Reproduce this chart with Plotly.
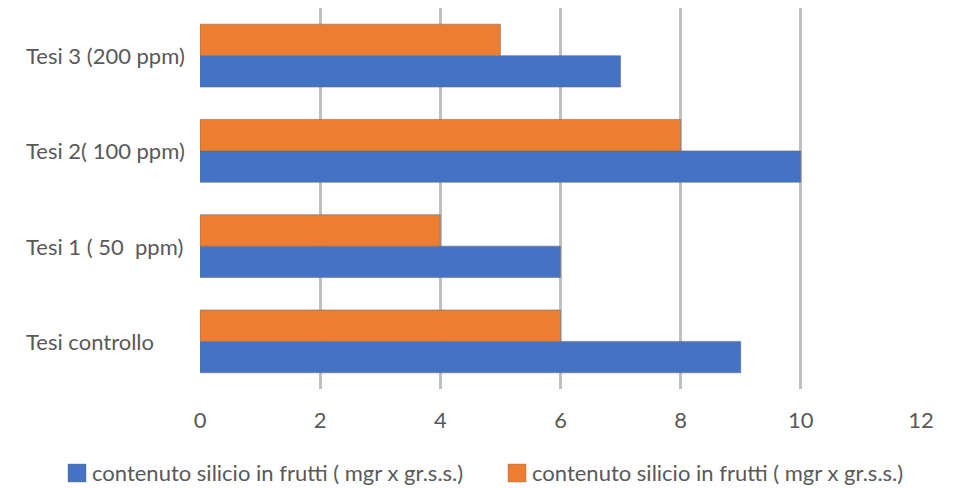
import plotly.graph_objects as go

# Categories (bottom to top) and silicon content values
categories = ["Tesi controllo", "Tesi 1 ( 50  ppm)", "Tesi 2( 100 ppm)", "Tesi 3 (200 ppm)"]
serie_blu = [9, 6, 10, 7]
serie_arancio = [6, 4, 8, 5]
nome_serie = "contenuto silicio in frutti ( mgr x gr.s.s.)"
x_ticks = [0, 2, 4, 6, 8, 10, 12]

colore_blu = "#4472C4"
colore_arancio = "#ED7D31"

W, H = 964, 488
L, R, T, B = 200, 43, 8, 99
plot_w = W - L - R
plot_h = H - T - B

def px_to_paper_x(px):
    return (px - L) / plot_w

def px_to_paper_y(py):
    return (H - B - py) / plot_h

text_color = "#595959"
font_family = "Lato, 'Open Sans', sans-serif"
font_size = 22
edge = dict(color="rgba(110,110,110,0.55)", width=1)

fig = go.Figure()
fig.add_trace(go.Bar(
    y=categories, x=serie_blu, orientation="h", name=nome_serie,
    marker=dict(color=colore_blu, line=edge),
))
fig.add_trace(go.Bar(
    y=categories, x=serie_arancio, orientation="h", name=nome_serie,
    marker=dict(color=colore_arancio, line=edge),
))

# Left-aligned category labels
for cat in categories:
    fig.add_annotation(
        x=px_to_paper_x(24), xref="paper", xanchor="left",
        y=cat, yref="y", yanchor="middle",
        text=cat, showarrow=False,
        font=dict(family=font_family, size=font_size, color=text_color),
    )

# Legend row below the axis: colour swatch + series name
for sw_left, colore in [(68, colore_blu), (508, colore_arancio)]:
    fig.add_shape(
        type="rect", xref="paper", yref="paper",
        x0=px_to_paper_x(sw_left), x1=px_to_paper_x(sw_left + 18),
        y0=px_to_paper_y(482), y1=px_to_paper_y(464),
        fillcolor=colore, line=dict(color="rgba(110,110,110,0.4)", width=1),
    )
    fig.add_annotation(
        x=px_to_paper_x(sw_left + 22), xref="paper", xanchor="left",
        y=px_to_paper_y(472), yref="paper", yanchor="middle",
        text=nome_serie, showarrow=False,
        font=dict(family=font_family, size=font_size, color=text_color),
    )

fig.update_layout(
    width=W, height=H,
    margin=dict(l=L, r=R, t=T, b=B, pad=0),
    paper_bgcolor="white", plot_bgcolor="white",
    barmode="group", bargap=0.34, bargroupgap=0,
    font=dict(family=font_family, size=font_size, color=text_color),
    showlegend=False,
    xaxis=dict(
        range=[0, 12], tickvals=x_ticks, ticktext=[str(v) for v in x_ticks],
        showgrid=True, gridcolor="#c0c0c0", gridwidth=2.5,
        zeroline=False, showline=False, ticks="",
        ticklabelstandoff=16,
        tickfont=dict(family=font_family, size=font_size, color=text_color),
        fixedrange=True,
    ),
    yaxis=dict(
        categoryorder="array", categoryarray=categories,
        showticklabels=False, showgrid=False, zeroline=False,
        showline=False, ticks="", fixedrange=True,
    ),
)

fig.write_html("out.html")
